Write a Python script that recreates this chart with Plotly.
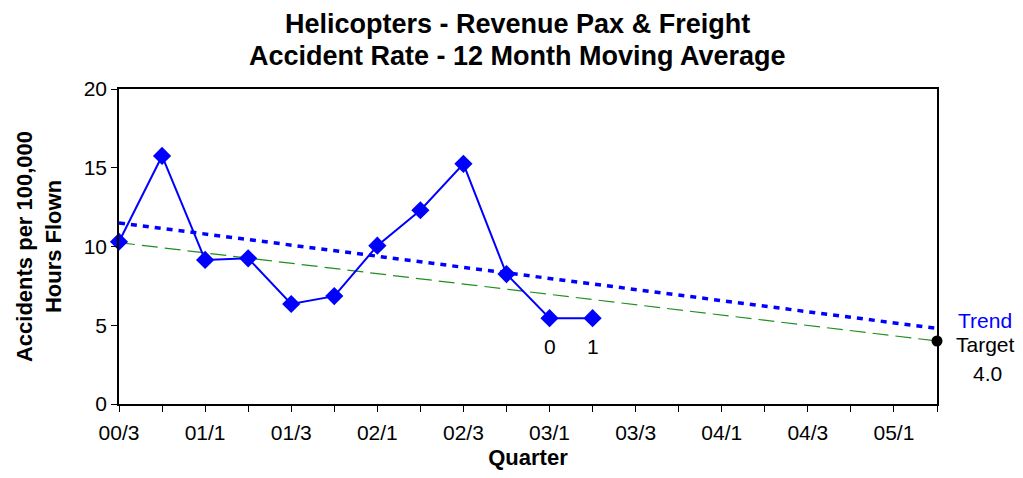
import plotly.graph_objects as go

quarters = ["00/3", "00/4", "01/1", "01/2", "01/3", "01/4", "02/1", "02/2", "02/3", "02/4",
            "03/1", "03/2", "03/3", "03/4", "04/1", "04/2", "04/3", "04/4", "05/1", "05/2"]
tick_labels = [q if i % 2 == 0 else "" for i, q in enumerate(quarters)]

rate = [10.3, 15.75, 9.15, 9.25, 6.35, 6.85, 10.05, 12.3, 15.25, 8.25, 5.45, 5.45]
rate_x = quarters[:len(rate)]

trend_x = [quarters[0], quarters[-1]]
trend_y = [11.5, 4.8]

target_x = [quarters[0], quarters[-1]]
target_y = [10.25, 4.0]

count_x = ["03/1", "03/2"]
count_y = [5.45, 5.45]
count_text = ["0", "1"]

title_lines = ["Helicopters - Revenue Pax & Freight", "Accident Rate - 12 Month Moving Average"]

FONT = "Liberation Sans, Arial, sans-serif"

fig = go.Figure()
fig.add_trace(go.Scatter(x=target_x, y=target_y, mode="lines",
                         line=dict(color="#1f8f1f", width=1.2, dash="16px,7px"),
                         hoverinfo="skip", showlegend=False))
fig.add_trace(go.Scatter(x=trend_x, y=trend_y, mode="lines",
                         line=dict(color="#0000ff", width=3.5, dash="6px,6px"),
                         hoverinfo="skip", showlegend=False))
fig.add_trace(go.Scatter(x=rate_x, y=rate, mode="lines+markers",
                         line=dict(color="#0000ff", width=2),
                         marker=dict(symbol="diamond", size=14, color="#0000ff"),
                         showlegend=False, cliponaxis=False))
fig.add_trace(go.Scatter(x=[target_x[-1]], y=[target_y[-1]], mode="markers",
                         marker=dict(symbol="circle", size=11, color="black"),
                         showlegend=False, cliponaxis=False))

for x, y, t in zip(count_x, count_y, count_text):
    fig.add_annotation(x=x, y=y, text=t, showarrow=False, yshift=-28,
                       font=dict(family=FONT, size=21, color="black"))

# title lines
for line, shift in zip(title_lines, [65, 33]):
    fig.add_annotation(x=0.4866, y=1, xref="paper", yref="paper", text="<b>" + line + "</b>",
                       showarrow=False, xanchor="center", yanchor="middle", yshift=shift,
                       font=dict(family=FONT, size=27, color="black"))

fig.add_annotation(x=1.0, y=5.33, xref="paper", yref="y", text="Trend", showarrow=False,
                   xanchor="center", xshift=48, font=dict(family=FONT, size=21, color="#0000ff"))
fig.add_annotation(x=1.0, y=3.75, xref="paper", yref="y", text="Target", showarrow=False,
                   xanchor="center", xshift=48, font=dict(family=FONT, size=21, color="black"))
fig.add_annotation(x=1.0, y=1.95, xref="paper", yref="y", text="4.0", showarrow=False,
                   xanchor="center", xshift=50, font=dict(family=FONT, size=21, color="black"))

# page body adds an 8px offset; compensate so plot area lands at x 119-937, y 89-404
fig.update_layout(
    width=1015, height=470,
    margin=dict(l=111, r=86, t=81, b=74),
    paper_bgcolor="white", plot_bgcolor="white",
    font=dict(family=FONT, size=21, color="black"),
    xaxis=dict(type="category", categoryorder="array", categoryarray=quarters,
               range=[0, len(quarters) - 1], tickmode="array", tickvals=quarters, ticktext=tick_labels,
               ticks="outside", ticklen=6, tickcolor="black", showline=True, linecolor="black",
               linewidth=1.5, mirror=True, showgrid=False, zeroline=False, automargin=False,
               tickfont=dict(size=21), ticklabelstandoff=3,
               title=dict(text="<b>Quarter</b>", font=dict(size=22), standoff=7)),
    yaxis=dict(range=[0, 20], tickvals=[0, 5, 10, 15, 20], ticks="outside", ticklen=6,
               tickcolor="black", showline=True, linecolor="black", linewidth=1.5, mirror=True,
               showgrid=False, zeroline=False, automargin=False, tickfont=dict(size=21),
               title=dict(text="<b>Accidents per 100,000<br>Hours Flown</b>", font=dict(size=22), standoff=16)),
)

fig.write_html("out.html")
